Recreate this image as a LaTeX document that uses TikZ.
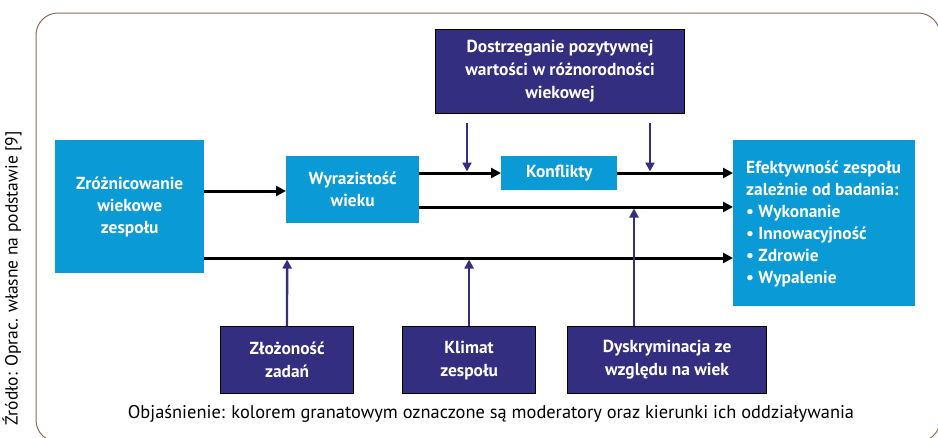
\documentclass[tikz,border=0pt]{standalone}
\usepackage{fontspec}
\setmainfont{PT Sans}
\usetikzlibrary{arrows.meta}
\definecolor{cyanb}{HTML}{0A9AD6}
\definecolor{navyb}{HTML}{342E80}
\definecolor{framec}{HTML}{8C6C5E}
\tikzset{
  cbox/.style={fill=cyanb, text=white, font=\bfseries\fontsize{17.4}{22}\selectfont, align=center, inner sep=0pt, anchor=north west},
  nbox/.style={fill=navyb, draw=black, line width=1.2pt, text=white, font=\bfseries\fontsize{17.4}{23}\selectfont, align=center, inner sep=0pt, anchor=north west},
  blk/.style={-{Triangle[length=10pt,width=10pt]}, line width=3pt, black},
  mod/.style={-{Triangle[length=9pt,width=9pt]}, line width=2.4pt, navyb},
}
\begin{document}
\begin{tikzpicture}[x=1pt,y=-1pt]
\useasboundingbox (0,0) rectangle (938,437);
\begin{scope}
\clip (0,0) rectangle (938,437);
\draw[framec, line width=1pt, rounded corners=22pt] (36,13) rectangle (940,442);
\end{scope}
\node[rotate=90, anchor=east, font=\fontsize{17.5}{20}\selectfont, text=black, inner sep=0pt] (src) at (12,131) {Źródło: Oprac. własne na podstawie [9]};

\node[cbox, minimum width=149pt, minimum height=133pt] (z) at (55,140) {Zróżnicowanie\\wiekowe\\zespołu};
\node[cbox, minimum width=133pt, minimum height=67pt] (w) at (286,156) {Wyrazistość\\wieku};
\node[cbox, minimum width=116pt, minimum height=34pt] (k) at (501,156) {Konflikty};
\node[cbox, minimum width=182pt, minimum height=166pt] (e) at (733,140) {};
\node[anchor=north west, text=white, font=\bfseries\fontsize{17.4}{22}\selectfont, align=left, inner sep=0pt] (et) at (746,161) {Efektywność zespołu\\zależnie od badania:\\• Wykonanie\\• Innowacyjność\\• Zdrowie\\• Wypalenie};

\node[nbox, minimum width=249pt, minimum height=84pt] (d) at (435,29) {Dostrzeganie pozytywnej\\wartości w różnorodności\\wiekowej};
\node[nbox, minimum width=133pt, minimum height=67pt] (zl) at (220,326) {Złożoność\\zadań};
\node[nbox, minimum width=133pt, minimum height=67pt] (kl) at (402,326) {Klimat\\zespołu};
\node[nbox, minimum width=199pt, minimum height=67pt] (dy) at (567,326) {Dyskryminacja ze\\względu na wiek};

\node[font=\fontsize{18.4}{20}\selectfont, anchor=center, inner sep=0pt] (cap) at (491,414) {Objaśnienie: kolorem granatowym oznaczone są moderatory oraz kierunki ich oddziaływania};

\coordinate (r0) at (0,191);
\coordinate (r1) at (0,173);
\coordinate (r2) at (0,207);
\coordinate (r3) at (0,258);
\coordinate (m1) at (467,0);
\coordinate (m2) at (650,0);
\coordinate (m5) at (634,0);

\draw[blk] (z.east |- r0) -- (w.west |- r0);
\draw[blk] (w.east |- r1) -- (k.west |- r1);
\draw[blk] (k.east |- r1) -- (e.west |- r1);
\draw[blk] (w.east |- r2) -- (e.west |- r2);
\draw[blk] (z.east |- r3) -- (e.west |- r3);

\draw[mod, shorten <=9pt] (d.south -| m1) -- ([yshift=1.5pt]m1 |- r1);
\draw[mod, shorten <=9pt] (d.south -| m2) -- ([yshift=1.5pt]m2 |- r1);
\draw[mod] (zl.north -| 287,0) -- ([yshift=-1.5pt]zl.north |- r3);
\draw[mod] (kl.north) -- ([yshift=-1.5pt]kl.north |- r3);
\draw[mod] (dy.north -| m5) -- ([yshift=-1.5pt]m5 |- r2);
\end{tikzpicture}
\end{document}
